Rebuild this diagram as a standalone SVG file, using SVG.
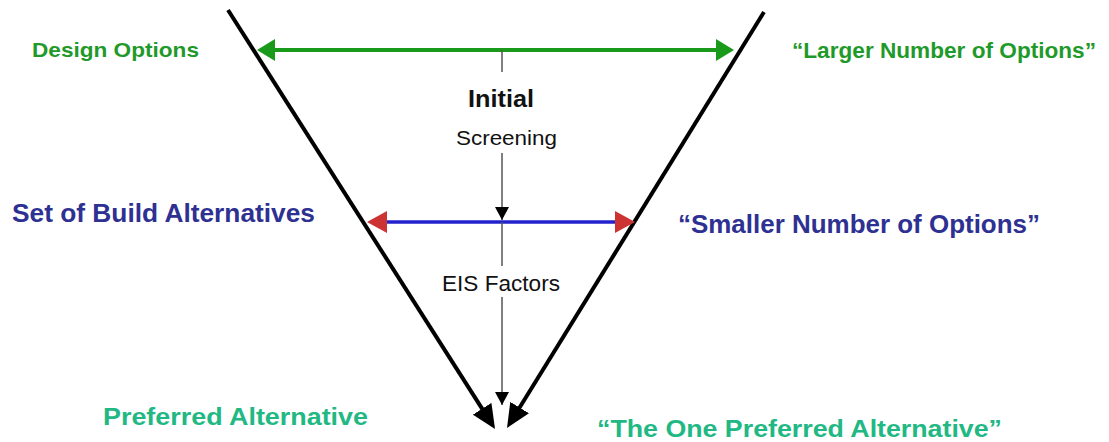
<svg xmlns="http://www.w3.org/2000/svg" width="1109" height="442" viewBox="0 0 1109 442">
<style>
text{font-family:"Liberation Sans",Arial,sans-serif}
.b{font-weight:bold}
.green{fill:#1f9a2a}
.blue{fill:#2e3192}
.teal{fill:#22b884}
.blk{fill:#111}
.vline{stroke:#555;stroke-width:1.5;fill:none}
</style>
<defs>
<marker id="bigBlack" markerUnits="userSpaceOnUse" markerWidth="24" markerHeight="22" refX="12" refY="11" orient="auto"><path d="M0,0 L24,11 L0,22 z" fill="#000"/></marker>
<marker id="greenHead" markerUnits="userSpaceOnUse" markerWidth="18" markerHeight="22" refX="8" refY="11" orient="auto-start-reverse"><path d="M0,0 L18,11 L0,22 z" fill="#1a9a1a"/></marker>
<marker id="redHead" markerUnits="userSpaceOnUse" markerWidth="20" markerHeight="22" refX="9" refY="11" orient="auto-start-reverse"><path d="M0,0 L20,11 L0,22 z" fill="#cc3333"/></marker>
<marker id="smallHead" markerUnits="userSpaceOnUse" markerWidth="14" markerHeight="14" refX="13" refY="7" orient="auto"><path d="M0,0 L13,7 L0,14 z" fill="#000"/></marker>
</defs>
<rect width="1109" height="442" fill="#fff"/>
<g id="connectors">
<line x1="228" y1="10" x2="488.6" y2="418.9" stroke="#000" stroke-width="4" marker-end="url(#bigBlack)"/>
<line x1="764" y1="12" x2="513.3" y2="417.8" stroke="#000" stroke-width="4" marker-end="url(#bigBlack)"/>
<line x1="267" y1="50" x2="724" y2="50" stroke="#1a9a1a" stroke-width="4" marker-start="url(#greenHead)" marker-end="url(#greenHead)"/>
<line x1="502" y1="50" x2="502" y2="72" class="vline"/>
<line x1="378" y1="222" x2="624" y2="222" stroke="#2222cc" stroke-width="3.5" marker-start="url(#redHead)" marker-end="url(#redHead)"/>
<line x1="502" y1="153" x2="502" y2="220" class="vline" marker-end="url(#smallHead)"/>
<line x1="502" y1="222" x2="502" y2="266" class="vline"/>
<line x1="502" y1="297" x2="502" y2="405" class="vline" marker-end="url(#smallHead)"/>
</g>
<g id="design-options"><text x="32" y="57" font-size="21" class="b green" textLength="167" lengthAdjust="spacingAndGlyphs">Design Options</text></g>
<g id="larger-number"><text x="792" y="58" font-size="22" class="b green" textLength="304" lengthAdjust="spacingAndGlyphs">“Larger Number of Options”</text></g>
<g id="initial"><text x="468" y="107" font-size="23" class="b blk" textLength="66" lengthAdjust="spacingAndGlyphs">Initial</text></g>
<g id="screening"><text x="456" y="145" font-size="21" class="blk" textLength="101" lengthAdjust="spacingAndGlyphs">Screening</text></g>
<g id="build-alternatives"><text x="12" y="222" font-size="25" class="b blue" textLength="303" lengthAdjust="spacingAndGlyphs">Set of Build Alternatives</text></g>
<g id="smaller-number"><text x="678" y="233" font-size="25" class="b blue" textLength="362" lengthAdjust="spacingAndGlyphs">“Smaller Number of Options”</text></g>
<g id="eis-factors"><text x="442" y="291" font-size="22" class="blk" textLength="118" lengthAdjust="spacingAndGlyphs">EIS Factors</text></g>
<g id="preferred-alternative"><text x="103" y="425" font-size="23" class="b teal" textLength="265" lengthAdjust="spacingAndGlyphs">Preferred Alternative</text></g>
<g id="one-preferred"><text x="597" y="437" font-size="24" class="b teal" textLength="405" lengthAdjust="spacingAndGlyphs">“The One Preferred Alternative”</text></g>
</svg>
